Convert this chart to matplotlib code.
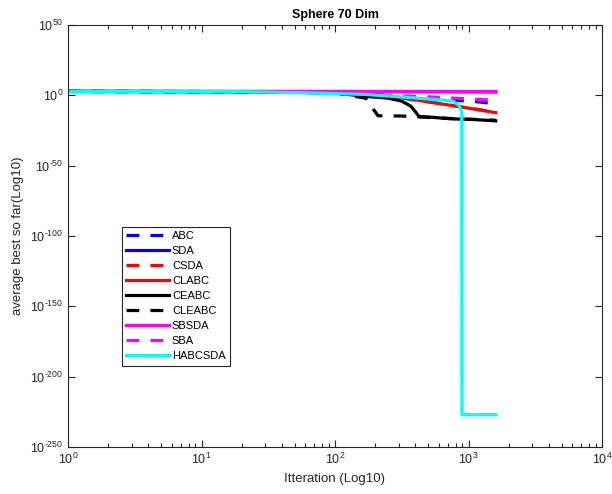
import matplotlib.pyplot as plt
from matplotlib.ticker import FixedLocator, LogLocator, NullLocator

plt.rcParams['font.family'] = ['Liberation Sans', 'DejaVu Sans']
plt.rcParams['mathtext.fontset'] = 'custom'
plt.rcParams['mathtext.rm'] = 'Liberation Sans'

# data (iteration, best value)
abc_it = [1, 20, 100, 170, 550, 1150, 1600]
abc_val = [6e2, 4e2, 3e1, 1e0, 3e-3, 3e-5, 1e-6]

sda_it = [1, 100, 1600]
sda_val = [6e2, 5e2, 3e2]

csda_it = [1, 50, 100, 210, 400, 630, 1000, 1600]
csda_val = [6e2, 3e2, 1e2, 3e0, 5e-4, 1e-6, 1e-9, 1e-12]

clabc_it = [1, 50, 100, 210, 400, 630, 1000, 1600]
clabc_val = [6e2, 3e2, 1e2, 4e0, 6e-4, 8e-7, 8e-10, 5e-13]

ceabc_it = [1, 50, 100, 165, 250, 315, 370, 405, 425, 500, 740, 1100, 1600]
ceabc_val = [6e2, 4e2, 5e1, 2e-1, 1e-2, 8e-5, 2e-8, 5e-13, 1e-15, 4e-16, 2e-17, 6e-18, 7e-19]

cleabc_it = [1, 50, 100, 130, 170, 185, 195, 210, 315, 600, 1600]
cleabc_val = [6e2, 4e2, 1e2, 5e-1, 1e-2, 1e-6, 6e-11, 3e-15, 2e-15, 8e-17, 2e-18]

sbsda_it = [1, 100, 1600]
sbsda_val = [6e2, 6e2, 5e2]

sba_it = [1, 50, 100, 170, 550, 1150, 1600]
sba_val = [6e2, 4e2, 8e1, 4e0, 6e-2, 1.5e-3, 3e-4]

habcsda_it = [1, 20, 55, 165, 370, 765, 855, 890, 893, 1600]
habcsda_val = [6e2, 4e2, 8e1, 5e0, 2.5e-2, 1e-4, 3e-8, 1e-12, 1e-227, 1e-227]

x_ticks = [1, 10, 100, 1000, 10000]
x_labels = [r'$10^{\text{0}}$', r'$10^{\text{1}}$', r'$10^{\text{2}}$',
            r'$10^{\text{3}}$', r'$10^{\text{4}}$']
y_ticks = [1e50, 1e0, 1e-50, 1e-100, 1e-150, 1e-200, 1e-250]
y_labels = [r'$10^{\text{50}}$', r'$10^{\text{0}}$', r'$10^{\text{-50}}$',
            r'$10^{\text{-100}}$', r'$10^{\text{-150}}$', r'$10^{\text{-200}}$',
            r'$10^{\text{-250}}$']

font_size = 9
grey = '#262626'

fig = plt.figure(figsize=(6.12, 4.94), dpi=100)
ax = fig.add_axes([68 / 612, 1 - 447 / 494, 534 / 612, 422 / 494])

lw = 2.3
dash = (4, 3.5)
ax.plot(abc_it, abc_val, color='b', lw=lw, dashes=dash, label='ABC')
ax.plot(sda_it, sda_val, color='b', lw=lw, label='SDA')
ax.plot(csda_it, csda_val, color='r', lw=lw, dashes=dash, label='CSDA')
ax.plot(clabc_it, clabc_val, color='r', lw=lw, label='CLABC')
ax.plot(ceabc_it, ceabc_val, color='k', lw=lw, label='CEABC')
ax.plot(cleabc_it, cleabc_val, color='k', lw=lw, dashes=dash, label='CLEABC')
ax.plot(sbsda_it, sbsda_val, color='#ff00ff', lw=lw, label='SBSDA')
ax.plot(sba_it, sba_val, color='#ff00ff', lw=lw, dashes=dash, label='SBA')
ax.plot(habcsda_it, habcsda_val, color='cyan', lw=lw, label='HABCSDA')

ax.set_xscale('log')
ax.set_yscale('log')
ax.set_xlim(1, 1e4)
ax.set_ylim(1e-250, 1e50)

ax.xaxis.set_major_locator(FixedLocator(x_ticks))
ax.set_xticklabels(x_labels)
ax.xaxis.set_minor_locator(LogLocator(base=10, subs=range(2, 10), numticks=20))
ax.yaxis.set_major_locator(FixedLocator(y_ticks))
ax.set_yticklabels(y_labels)
ax.yaxis.set_minor_locator(NullLocator())

ax.tick_params(which='both', direction='in', top=True, right=True,
               labelsize=font_size, labelcolor=grey, color=grey, width=0.8)
ax.tick_params(which='major', length=5)
ax.tick_params(which='minor', length=3)
for s in ax.spines.values():
    s.set_color(grey)
    s.set_linewidth(0.8)

ax.set_title('Sphere 70 Dim', fontsize=font_size, fontweight='bold', pad=5)
ax.set_xlabel('Itteration (Log10)', fontsize=9.5, color=grey, labelpad=4)
ax.set_ylabel('average best so far(Log10)', fontsize=9.5, color=grey, labelpad=4)

leg = ax.legend(loc='lower left', bbox_to_anchor=(0.101, 0.193), fontsize=8,
                fancybox=False, framealpha=1, edgecolor=grey, borderpad=0.4,
                labelspacing=0.45, handlelength=3.8, handletextpad=0.3,
                borderaxespad=0)
leg.get_frame().set_linewidth(0.8)

plt.savefig('out.png', dpi=100)
